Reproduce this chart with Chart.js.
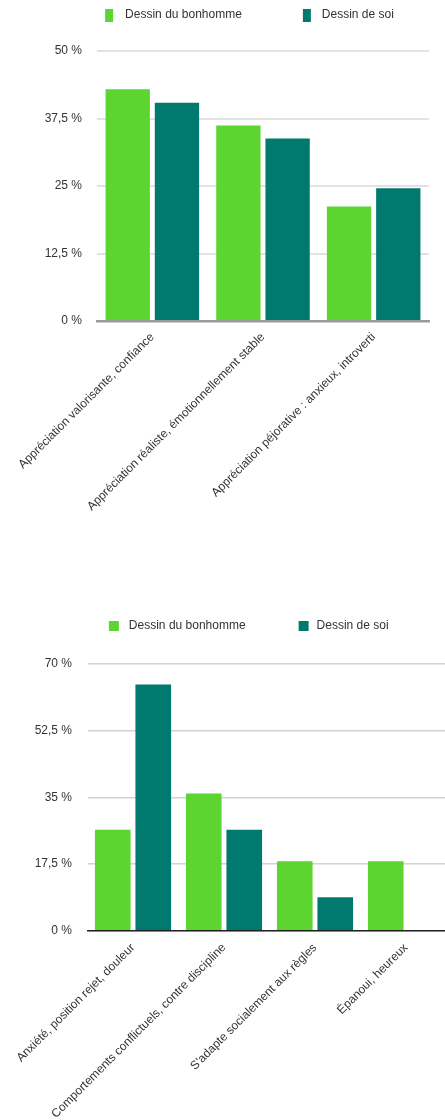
<!DOCTYPE html>
<html><head><meta charset="utf-8">
<script src="https://cdn.jsdelivr.net/npm/chart.js@4.4.1/dist/chart.umd.min.js"></script>
<style>
html,body{margin:0;padding:0;background:#fff;overflow:hidden;width:445px;height:1120px;position:relative;}
#c1{position:absolute;left:0;top:0;}
#c2{position:absolute;left:0;top:600px;}
</style></head><body>
<canvas id="c1" width="445" height="600"></canvas>
<canvas id="c2" width="460" height="520"></canvas>
<script>
// ---- data ----
const seriesNames = ['Dessin du bonhomme', 'Dessin de soi'];
const seriesColors = ['#5dd531', '#007a6f'];

const categories1 = ['Appréciation valorisante, confiance', 'Appréciation réaliste, émotionnellement stable', 'Appréciation péjorative : anxieux, introverti'];
const bonhomme1 = [42.9, 36.2, 21.2];
const soi1 = [40.4, 33.8, 24.6];
const yTicks1 = ['0 %', '12,5 %', '25 %', '37,5 %', '50 %'];

const categories2 = ['Anxiété, position rejet, douleur', 'Comportements conflictuels, contre discipline', "S'adapte socialement aux règles", 'Épanoui, heureux'];
const bonhomme2 = [26.5, 36.0, 18.2, 18.2];
const soi2 = [64.6, 26.5, 8.8, 0];
const yTicks2 = ['0 %', '17,5 %', '35 %', '52,5 %', '70 %'];

// ---- rendering ----
const FONT = "'Liberation Sans', Arial, Helvetica, sans-serif";
Chart.defaults.font.family = FONT;

function legendSwatch(color, imgW, imgH, rectX, rectW) {
  const c = document.createElement('canvas');
  c.width = imgW; c.height = imgH;
  const g = c.getContext('2d');
  g.fillStyle = color;
  g.fillRect(rectX, 0, rectW, imgH);
  return c;
}

// adds extra space between the legend and the plot area
const legendGap = {
  id: 'legendGap',
  afterInit(chart, args, opts) {
    const lg = chart.legend;
    if (!lg) return;
    const fit = lg.fit;
    lg.fit = function () { fit.call(this); this.height += (opts.extra || 0); };
  }
};

function makeChart(id, cats, v1, v2, yMax, yStep, yTickLabels, cfg) {
  const swatches = [
    legendSwatch(seriesColors[0], cfg.sw, cfg.sh, cfg.r1, cfg.rw),
    legendSwatch(seriesColors[1], cfg.sw, cfg.sh, cfg.r2, cfg.rw)
  ];
  return new Chart(document.getElementById(id), {
    type: 'bar',
    data: {
      labels: cats,
      datasets: [
        {label: seriesNames[0], data: v1, backgroundColor: seriesColors[0], borderWidth: 0},
        {label: seriesNames[1], data: v2, backgroundColor: seriesColors[1], borderWidth: 0}
      ]
    },
    plugins: [legendGap],
    options: {
      responsive: false,
      animation: false,
      datasets: {bar: {categoryPercentage: 0.89, barPercentage: cfg.bp}},
      layout: {padding: cfg.pad},
      plugins: {
        tooltip: {enabled: false},
        legendGap: {extra: cfg.gap},
        legend: {
          position: 'top',
          labels: {
            usePointStyle: true,
            pointStyleWidth: cfg.sw,
            padding: cfg.lp,
            color: '#333',
            font: {size: 12, family: FONT},
            generateLabels: (chart) => Chart.defaults.plugins.legend.labels.generateLabels(chart)
              .map((it, i) => Object.assign(it, {pointStyle: swatches[i]}))
          }
        }
      },
      scales: {
        x: {
          grid: {display: false, drawTicks: false},
          border: {display: true, color: cfg.axisColor, width: cfg.axisWidth},
          ticks: {autoSkip: false, minRotation: 45, maxRotation: 45, padding: cfg.xtp, color: '#333', font: {size: 12}},
          afterFit: (s) => { s.height = cfg.xh; s.paddingLeft = 0; s.paddingRight = 0; }
        },
        y: {
          min: 0, max: yMax,
          grid: {color: cfg.gridColor, lineWidth: cfg.gridWidth, drawTicks: false},
          border: {display: false},
          ticks: {stepSize: yStep, padding: cfg.ytp, color: '#333', font: {size: 12},
            callback: (v) => yTickLabels[Math.round(v / yStep)]},
          afterFit: (s) => { s.width = cfg.yw; s.paddingTop = 0; s.paddingBottom = 0; }
        }
      }
    }
  });
}

makeChart('c1', categories1, bonhomme1, soi1, 50, 12.5, yTicks1, {
  sw: 65, sh: 13, r1: 51, r2: 52, rw: 8, lp: 9, bp: 0.9, gap: 20,
  pad: {left: 19, right: 16, top: 0, bottom: 0},
  yw: 78, xh: 279, xtp: 9, ytp: 15,
  gridColor: '#e2e2e2', gridWidth: 2, axisColor: '#9a9a9a', axisWidth: 2.5
});

makeChart('c2', categories2, bonhomme2, soi2, 70, 17.5, yTicks2, {
  sw: 55, sh: 10, r1: 41, r2: 43, rw: 10, lp: 10, bp: 0.88, gap: 22,
  pad: {left: 5, right: 8.5, top: 10, bottom: 0},
  yw: 82.5, xh: 189.3, xtp: 10, ytp: 15.5,
  gridColor: '#d2d2d2', gridWidth: 1.5, axisColor: '#222', axisWidth: 1.5
});
</script>
</body></html>
